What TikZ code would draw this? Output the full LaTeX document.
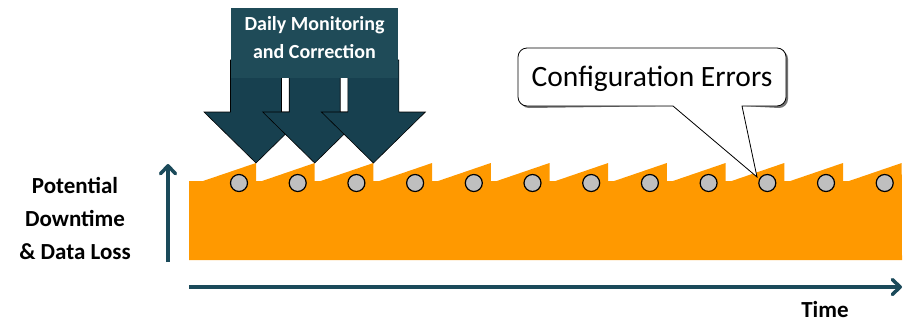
\documentclass[tikz,border=0pt]{standalone}
\usepackage{fontspec}
\setmainfont{Carlito}
\usetikzlibrary{arrows.meta}
\definecolor{orng}{HTML}{FF9900}
\definecolor{teal}{HTML}{17404F}
\definecolor{boxteal}{HTML}{1F4B58}
\definecolor{axis}{HTML}{1B4A5A}
\definecolor{dotgray}{HTML}{BFBFBF}
\tikzset{
  dot/.style={circle,draw=black,line width=1.2pt,fill=dotgray,minimum size=17pt,inner sep=0pt},
  bigarrow/.style={fill=teal,draw=black,line width=0.6pt},
  axisline/.style={draw=axis,line width=3.5pt,-{Straight Barb[length=8pt,width=15pt,round]}},
  lbl/.style={font=\bfseries\fontsize{23}{33}\selectfont,align=center,inner sep=0pt},
}
\begin{document}
\begin{tikzpicture}[x=1pt,y=-1pt]
\useasboundingbox (0,0) rectangle (904,322);
% orange sawtooth area
\fill[orng] (189,260) -- (189,181) -- (203,181) -- (256,163)
  \foreach \k in {0,...,10} { -- ({256+58.7*\k},181) -- ({262+58.7*\k},181) -- ({314.7+58.7*\k},163) }
  -- (902,260) -- cycle;
% dots
\foreach \k [count=\i] in {0,...,11}
  \node[dot] (c\i) at ({239+58.7*\k},183) {};
% big arrows
\foreach \t in {256,314.7,373.4}
  \draw[bigarrow] ({\t-25.5},60) -- ({\t+25.5},60) -- ({\t+25.5},112) -- ({\t+52},112)
     -- (\t,163) -- ({\t-52},112) -- ({\t-25.5},112) -- cycle;
% box
\node[fill=boxteal,minimum width=167pt,minimum height=70pt,inner sep=0pt,anchor=north west] (box) at (231,8) {};
\node[text=white,font=\bfseries\fontsize{20}{28}\selectfont,align=center,inner sep=0pt] (boxtxt) at (314.5,38)
      {Daily Monitoring\\and Correction};
% callout
\coordinate (tip) at (757,177);
\coordinate (pl) at (673,106);
\coordinate (pr) at (742,106);
\fill[black!55,shift={(2pt,-2pt)}] (pl) -- (tip) -- (pr) -- (777,106) arc[start angle=-90,end angle=0,radius=9pt]
   -- (786,57) arc[start angle=0,end angle=90,radius=9pt] -- (527,48)
   arc[start angle=90,end angle=180,radius=9pt] -- (518,97) arc[start angle=180,end angle=270,radius=9pt] -- cycle;
\draw[fill=white,line width=0.8pt] (pl) -- (tip) -- (pr) -- (777,106) arc[start angle=-90,end angle=0,radius=9pt]
   -- (786,57) arc[start angle=0,end angle=90,radius=9pt] -- (527,48)
   arc[start angle=90,end angle=180,radius=9pt] -- (518,97) arc[start angle=180,end angle=270,radius=9pt] -- cycle;
\node[font=\fontsize{29.5}{33}\selectfont,inner sep=0pt] (cfg) at (652,79) {Configuration Errors};
% axes
\coordinate (vb) at (168,262);
\coordinate (vt) at (168,164);
\coordinate (hl) at (189,287);
\coordinate (hr) at (902,287);
\draw[axisline] (vb) -- (vt);
\draw[axisline] (hl) -- (hr);
% labels
\node[lbl] (ylab) at (75,218) {Potential\\Downtime\\\& Data Loss};
\node[lbl] (xlab) at (825,310) {Time};
\end{tikzpicture}
\end{document}
